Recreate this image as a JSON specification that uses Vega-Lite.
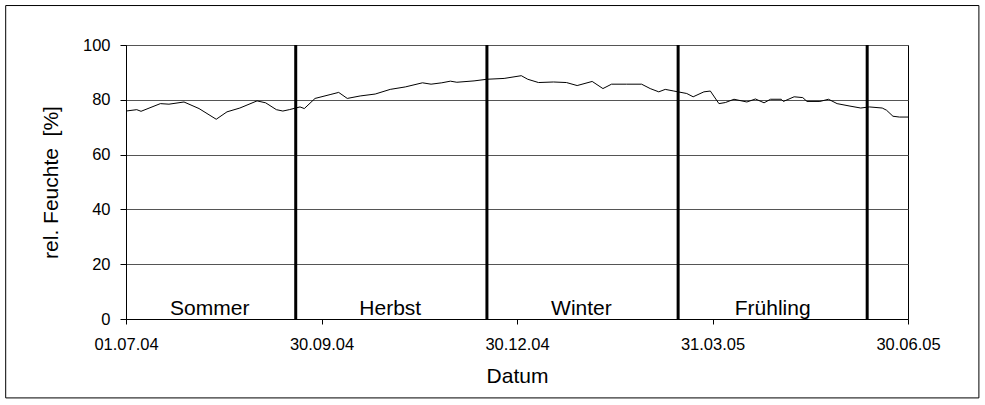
{
  "$schema": "https://vega.github.io/schema/vega-lite/v6.json",
  "width": 782,
  "height": 274,
  "padding": {"left": 5, "top": 5, "right": 5, "bottom": 5},
  "background": "white",
  "config": {
    "font": "Liberation Sans",
    "view": {"stroke": "black", "strokeWidth": 1},
    "axis": {
      "domainColor": "black",
      "tickColor": "black",
      "labelColor": "black",
      "titleColor": "black",
      "labelFont": "Liberation Sans",
      "titleFont": "Liberation Sans",
      "labelFontSize": 16.5,
      "titleFontSize": 21,
      "titleFontWeight": "normal"
    },
    "axisX": {
      "format": "%d.%m.%y",
      "formatType": "utc",
      "grid": false,
      "tickSize": 5,
      "labelPadding": 12,
      "titlePadding": 13,
      "labelFlush": false,
      "labelOverlap": false
    },
    "axisY": {
      "grid": true,
      "gridColor": "#555555",
      "gridWidth": 1,
      "tickSize": 6,
      "labelPadding": 10,
      "titlePadding": 21
    }
  },
  "datasets": {
    "rh": [
      {"date": "2004-07-01", "rh": 75.9},
      {"date": "2004-07-06", "rh": 76.4},
      {"date": "2004-07-08", "rh": 75.8},
      {"date": "2004-07-17", "rh": 78.6},
      {"date": "2004-07-21", "rh": 78.4},
      {"date": "2004-07-28", "rh": 79.2},
      {"date": "2004-08-04", "rh": 76.8},
      {"date": "2004-08-12", "rh": 72.9},
      {"date": "2004-08-17", "rh": 75.6},
      {"date": "2004-08-23", "rh": 77.0},
      {"date": "2004-08-31", "rh": 79.6},
      {"date": "2004-09-04", "rh": 78.9},
      {"date": "2004-09-09", "rh": 76.4},
      {"date": "2004-09-12", "rh": 75.9},
      {"date": "2004-09-15", "rh": 76.4},
      {"date": "2004-09-20", "rh": 77.4},
      {"date": "2004-09-22", "rh": 76.8},
      {"date": "2004-09-27", "rh": 80.5},
      {"date": "2004-10-04", "rh": 81.9},
      {"date": "2004-10-08", "rh": 82.7},
      {"date": "2004-10-12", "rh": 80.5},
      {"date": "2004-10-18", "rh": 81.4},
      {"date": "2004-10-25", "rh": 82.1},
      {"date": "2004-11-01", "rh": 83.8},
      {"date": "2004-11-08", "rh": 84.7},
      {"date": "2004-11-16", "rh": 86.2},
      {"date": "2004-11-20", "rh": 85.7},
      {"date": "2004-11-25", "rh": 86.2},
      {"date": "2004-11-29", "rh": 86.8},
      {"date": "2004-12-02", "rh": 86.4},
      {"date": "2004-12-10", "rh": 86.9},
      {"date": "2004-12-16", "rh": 87.5},
      {"date": "2004-12-24", "rh": 87.8},
      {"date": "2005-01-01", "rh": 88.8},
      {"date": "2005-01-04", "rh": 87.5},
      {"date": "2005-01-09", "rh": 86.3},
      {"date": "2005-01-16", "rh": 86.5},
      {"date": "2005-01-22", "rh": 86.3},
      {"date": "2005-01-27", "rh": 85.2},
      {"date": "2005-02-03", "rh": 86.7},
      {"date": "2005-02-08", "rh": 84.1},
      {"date": "2005-02-12", "rh": 85.7},
      {"date": "2005-02-19", "rh": 85.7},
      {"date": "2005-02-26", "rh": 85.7},
      {"date": "2005-03-02", "rh": 84.1},
      {"date": "2005-03-06", "rh": 82.9},
      {"date": "2005-03-09", "rh": 83.8},
      {"date": "2005-03-13", "rh": 83.2},
      {"date": "2005-03-19", "rh": 82.3},
      {"date": "2005-03-22", "rh": 81.1},
      {"date": "2005-03-27", "rh": 82.9},
      {"date": "2005-03-30", "rh": 83.2},
      {"date": "2005-04-03", "rh": 78.6},
      {"date": "2005-04-06", "rh": 79.0},
      {"date": "2005-04-10", "rh": 80.2},
      {"date": "2005-04-16", "rh": 79.2},
      {"date": "2005-04-20", "rh": 80.3},
      {"date": "2005-04-24", "rh": 78.9},
      {"date": "2005-04-27", "rh": 80.2},
      {"date": "2005-05-02", "rh": 80.2},
      {"date": "2005-05-03", "rh": 79.4},
      {"date": "2005-05-08", "rh": 81.1},
      {"date": "2005-05-12", "rh": 80.8},
      {"date": "2005-05-14", "rh": 79.4},
      {"date": "2005-05-20", "rh": 79.4},
      {"date": "2005-05-24", "rh": 80.2},
      {"date": "2005-05-28", "rh": 78.6},
      {"date": "2005-06-03", "rh": 77.7},
      {"date": "2005-06-08", "rh": 77.0},
      {"date": "2005-06-12", "rh": 77.4},
      {"date": "2005-06-18", "rh": 77.0},
      {"date": "2005-06-20", "rh": 76.2},
      {"date": "2005-06-23", "rh": 74.0},
      {"date": "2005-06-26", "rh": 73.7},
      {"date": "2005-06-30", "rh": 73.7}
    ],
    "grenzen": [
      {"date": "2004-09-18"},
      {"date": "2004-12-16"},
      {"date": "2005-03-15"},
      {"date": "2005-06-11"}
    ],
    "jahreszeiten": [
      {"date": "2004-08-09", "name": "Sommer"},
      {"date": "2004-11-01", "name": "Herbst"},
      {"date": "2005-01-29", "name": "Winter"},
      {"date": "2005-04-28", "name": "Frühling"}
    ]
  },
  "layer": [
    {
      "data": {"name": "rh"},
      "mark": {"type": "line", "color": "black", "strokeWidth": 1},
      "encoding": {
        "x": {
          "field": "date",
          "type": "temporal",
          "title": "Datum",
          "scale": {
            "type": "utc",
            "domain": [
              {"year": 2004, "month": 7, "date": 1, "utc": true},
              {"year": 2005, "month": 6, "date": 30, "utc": true}
            ]
          },
          "axis": {
            "values": [
              {"year": 2004, "month": 7, "date": 1, "utc": true},
              {"year": 2004, "month": 9, "date": 30, "utc": true},
              {"year": 2004, "month": 12, "date": 30, "utc": true},
              {"year": 2005, "month": 3, "date": 31, "utc": true},
              {"year": 2005, "month": 6, "date": 30, "utc": true}
            ],
            "format": "%d.%m.%y",
            "formatType": "utc"
          }
        },
        "y": {
          "field": "rh",
          "type": "quantitative",
          "title": "rel. Feuchte\u00a0 [%]",
          "scale": {"domain": [0, 100], "nice": false},
          "axis": {"values": [0, 20, 40, 60, 80, 100]}
        }
      }
    },
    {
      "data": {"name": "grenzen"},
      "mark": {"type": "rule", "color": "black", "strokeWidth": 3},
      "encoding": {
        "x": {"field": "date", "type": "temporal", "title": "Datum", "axis": {"format": "%d.%m.%y", "formatType": "utc"}}
      }
    },
    {
      "data": {"name": "jahreszeiten"},
      "mark": {"type": "text", "fontSize": 21, "font": "Liberation Sans", "color": "black", "baseline": "alphabetic", "align": "center", "dy": -4},
      "encoding": {
        "x": {"field": "date", "type": "temporal", "title": "Datum", "axis": {"format": "%d.%m.%y", "formatType": "utc"}},
        "y": {"datum": 0, "type": "quantitative", "title": "rel. Feuchte\u00a0 [%]"},
        "text": {"field": "name"}
      }
    },
    {
      "data": {"values": [{}]},
      "mark": {"type": "rect", "filled": false, "stroke": "black", "strokeWidth": 1, "clip": false},
      "encoding": {
        "x": {"datum": {"year": 2004, "month": 5, "date": 6, "utc": true}, "type": "temporal", "title": "Datum", "axis": {"format": "%d.%m.%y", "formatType": "utc"}},
        "x2": {"datum": {"year": 2005, "month": 8, "date": 2, "utc": true}},
        "y": {"datum": 114.4, "type": "quantitative", "title": "rel. Feuchte\u00a0 [%]"},
        "y2": {"datum": -28.8}
      }
    }
  ]
}
